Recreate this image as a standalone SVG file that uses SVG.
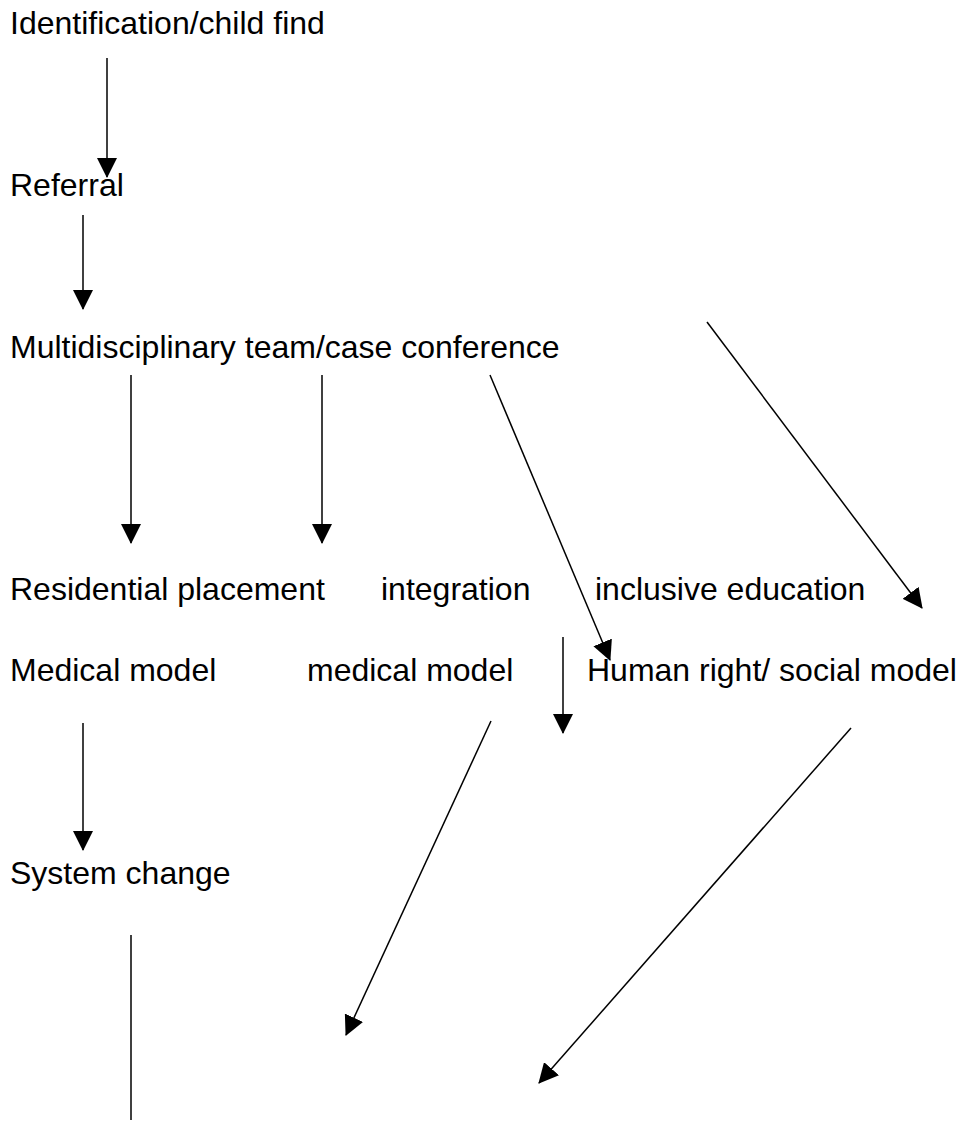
<svg xmlns="http://www.w3.org/2000/svg" width="959" height="1122" viewBox="0 0 959 1122">
<style>
.t{font-family:"Liberation Sans",Arial,sans-serif;font-size:32px;fill:#000}
.c{stroke:#000;stroke-width:1.5;fill:none}
.a{marker-end:url(#ah)}
</style>
<defs>
<marker id="ah" markerUnits="userSpaceOnUse" markerWidth="20" markerHeight="20" viewBox="0 0 20 20" refX="19" refY="10" orient="auto">
<path d="M0,0 L20,10 L0,20 z" fill="#000"/>
</marker>
</defs>
<rect width="959" height="1122" fill="#fff"/>
<g id="n-identification"><text class="t" x="10" y="34">Identification/child find</text></g>
<g id="n-referral"><text class="t" x="10" y="196">Referral</text></g>
<g id="n-mdt"><text class="t" x="10" y="358">Multidisciplinary team/case conference</text></g>
<g id="n-residential"><text class="t" x="10" y="600">Residential placement</text></g>
<g id="n-integration"><text class="t" x="381" y="600">integration</text></g>
<g id="n-inclusive"><text class="t" x="595" y="600">inclusive education</text></g>
<g id="n-medical1"><text class="t" x="10" y="681">Medical model</text></g>
<g id="n-medical2"><text class="t" x="307" y="681">medical model</text></g>
<g id="n-human"><text class="t" x="587" y="681">Human right/ social model</text></g>
<g id="n-system"><text class="t" x="10" y="884">System change</text></g>
<g id="connectors">
<line class="c a" x1="107" y1="58" x2="107" y2="177"/>
<line class="c a" x1="83" y1="215" x2="83" y2="309"/>
<line class="c a" x1="131" y1="375" x2="131" y2="543"/>
<line class="c a" x1="322" y1="375" x2="322" y2="543"/>
<line class="c a" x1="490" y1="375" x2="610" y2="660"/>
<line class="c a" x1="707" y1="322" x2="922" y2="608"/>
<line class="c a" x1="563" y1="637" x2="563" y2="733"/>
<line class="c a" x1="83" y1="723" x2="83" y2="850"/>
<line class="c a" x1="491" y1="721" x2="346" y2="1035"/>
<line class="c a" x1="851" y1="728" x2="539" y2="1083"/>
<line class="c" x1="131" y1="935" x2="131" y2="1120"/>
</g>
</svg>
